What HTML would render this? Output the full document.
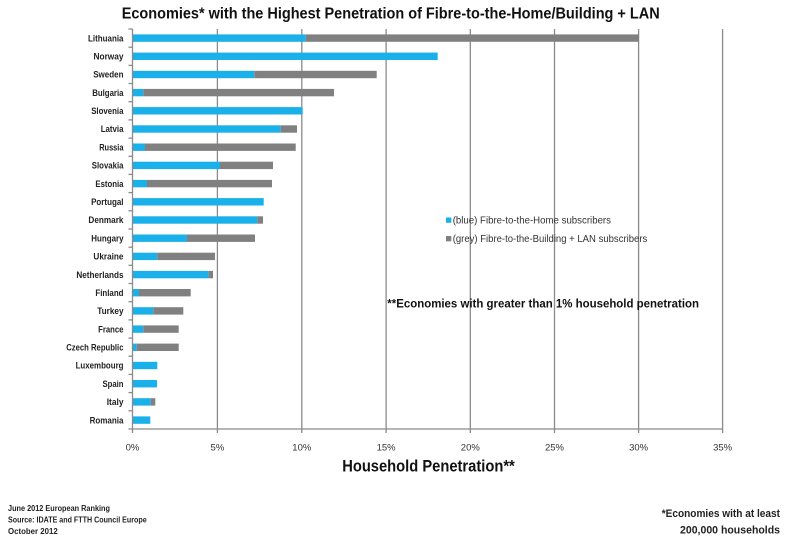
<!DOCTYPE html>
<html>
<head>
<meta charset="utf-8">
<style>
html,body{margin:0;padding:0;background:#fff;}
svg{display:block;}
text{font-family:"Liberation Sans",Arial,sans-serif;}
</style>
</head>
<body>
<svg width="800" height="536" viewBox="0 0 800 536" xmlns="http://www.w3.org/2000/svg">
<rect width="800" height="536" fill="#fff"/>
<!-- Title -->
<text x="121.7" y="18.5" font-size="15.4" font-weight="bold" fill="#111" textLength="538" lengthAdjust="spacingAndGlyphs">Economies* with the Highest Penetration of Fibre-to-the-Home/Building + LAN</text>

<!-- gridlines -->
<g stroke="#8a8a8a" stroke-width="1.3">
<line x1="217.4" y1="29" x2="217.4" y2="429"/>
<line x1="301.8" y1="29" x2="301.8" y2="429"/>
<line x1="386.1" y1="29" x2="386.1" y2="429"/>
<line x1="470.3" y1="29" x2="470.3" y2="429"/>
<line x1="554.5" y1="29" x2="554.5" y2="429"/>
<line x1="638.6" y1="29" x2="638.6" y2="429"/>
<line x1="722.6" y1="29" x2="722.6" y2="429"/>
</g>

<!-- bars: row center = 29 + 18.18*(i+0.5); bar height 7.4 -->
<g>
<!-- Lithuania -->
<rect x="132.5" y="34.4" width="173.2" height="7.4" fill="#1ab0ea"/>
<rect x="305.7" y="34.4" width="333.3" height="7.4" fill="#808080"/>
<!-- Norway -->
<rect x="132.5" y="52.6" width="305.2" height="7.4" fill="#1ab0ea"/>
<!-- Sweden -->
<rect x="132.5" y="70.8" width="121.8" height="7.4" fill="#1ab0ea"/>
<rect x="254.3" y="70.8" width="122.4" height="7.4" fill="#808080"/>
<!-- Bulgaria -->
<rect x="132.5" y="88.9" width="10.8" height="7.4" fill="#1ab0ea"/>
<rect x="143.3" y="88.9" width="190.7" height="7.4" fill="#808080"/>
<!-- Slovenia -->
<rect x="132.5" y="107.1" width="170.2" height="7.4" fill="#1ab0ea"/>
<!-- Latvia -->
<rect x="132.5" y="125.3" width="148.2" height="7.4" fill="#1ab0ea"/>
<rect x="280.7" y="125.3" width="16.3" height="7.4" fill="#808080"/>
<!-- Russia -->
<rect x="132.5" y="143.5" width="12.5" height="7.4" fill="#1ab0ea"/>
<rect x="145" y="143.5" width="150.7" height="7.4" fill="#808080"/>
<!-- Slovakia -->
<rect x="132.5" y="161.7" width="87.5" height="7.4" fill="#1ab0ea"/>
<rect x="220" y="161.7" width="53" height="7.4" fill="#808080"/>
<!-- Estonia -->
<rect x="132.5" y="179.9" width="14.5" height="7.4" fill="#1ab0ea"/>
<rect x="147" y="179.9" width="125" height="7.4" fill="#808080"/>
<!-- Portugal -->
<rect x="132.5" y="198.1" width="131.2" height="7.4" fill="#1ab0ea"/>
<!-- Denmark -->
<rect x="132.5" y="216.3" width="124.8" height="7.4" fill="#1ab0ea"/>
<rect x="257.3" y="216.3" width="5.7" height="7.4" fill="#808080"/>
<!-- Hungary -->
<rect x="132.5" y="234.5" width="54.5" height="7.4" fill="#1ab0ea"/>
<rect x="187" y="234.5" width="68" height="7.4" fill="#808080"/>
<!-- Ukraine -->
<rect x="132.5" y="252.7" width="24.8" height="7.4" fill="#1ab0ea"/>
<rect x="157.3" y="252.7" width="57.7" height="7.4" fill="#808080"/>
<!-- Netherlands -->
<rect x="132.5" y="270.9" width="76.2" height="7.4" fill="#1ab0ea"/>
<rect x="208.7" y="270.9" width="4.3" height="7.4" fill="#808080"/>
<!-- Finland -->
<rect x="132.5" y="289.0" width="6.5" height="7.4" fill="#1ab0ea"/>
<rect x="139" y="289.0" width="51.7" height="7.4" fill="#808080"/>
<!-- Turkey -->
<rect x="132.5" y="307.2" width="20.8" height="7.4" fill="#1ab0ea"/>
<rect x="153.3" y="307.2" width="30" height="7.4" fill="#808080"/>
<!-- France -->
<rect x="132.5" y="325.4" width="10.8" height="7.4" fill="#1ab0ea"/>
<rect x="143.3" y="325.4" width="35.4" height="7.4" fill="#808080"/>
<!-- Czech Republic -->
<rect x="132.5" y="343.6" width="4.2" height="7.4" fill="#1ab0ea"/>
<rect x="136.7" y="343.6" width="42" height="7.4" fill="#808080"/>
<!-- Luxembourg -->
<rect x="132.5" y="361.8" width="24.8" height="7.4" fill="#1ab0ea"/>
<!-- Spain -->
<rect x="132.5" y="380.0" width="24.5" height="7.4" fill="#1ab0ea"/>
<!-- Italy -->
<rect x="132.5" y="398.2" width="18.2" height="7.4" fill="#1ab0ea"/>
<rect x="150.7" y="398.2" width="4.6" height="7.4" fill="#808080"/>
<!-- Romania -->
<rect x="132.5" y="416.4" width="17.8" height="7.4" fill="#1ab0ea"/>
</g>

<!-- axes -->
<g stroke="#8a8a8a" stroke-width="1.3">
<line x1="132.5" y1="29" x2="132.5" y2="429.5"/>
<line x1="132" y1="429" x2="723" y2="429"/>
<!-- x ticks -->
<line x1="132.5" y1="429" x2="132.5" y2="433"/>
<line x1="217.4" y1="429" x2="217.4" y2="433"/>
<line x1="301.8" y1="429" x2="301.8" y2="433"/>
<line x1="386.1" y1="429" x2="386.1" y2="433"/>
<line x1="470.3" y1="429" x2="470.3" y2="433"/>
<line x1="554.5" y1="429" x2="554.5" y2="433"/>
<line x1="638.6" y1="429" x2="638.6" y2="433"/>
<line x1="722.6" y1="429" x2="722.6" y2="433"/>
<!-- y ticks -->
<line x1="128.5" y1="29" x2="132.5" y2="29"/>
<line x1="128.5" y1="47.2" x2="132.5" y2="47.2"/>
<line x1="128.5" y1="65.4" x2="132.5" y2="65.4"/>
<line x1="128.5" y1="83.5" x2="132.5" y2="83.5"/>
<line x1="128.5" y1="101.7" x2="132.5" y2="101.7"/>
<line x1="128.5" y1="119.9" x2="132.5" y2="119.9"/>
<line x1="128.5" y1="138.1" x2="132.5" y2="138.1"/>
<line x1="128.5" y1="156.3" x2="132.5" y2="156.3"/>
<line x1="128.5" y1="174.4" x2="132.5" y2="174.4"/>
<line x1="128.5" y1="192.6" x2="132.5" y2="192.6"/>
<line x1="128.5" y1="210.8" x2="132.5" y2="210.8"/>
<line x1="128.5" y1="229" x2="132.5" y2="229"/>
<line x1="128.5" y1="247.2" x2="132.5" y2="247.2"/>
<line x1="128.5" y1="265.3" x2="132.5" y2="265.3"/>
<line x1="128.5" y1="283.5" x2="132.5" y2="283.5"/>
<line x1="128.5" y1="301.7" x2="132.5" y2="301.7"/>
<line x1="128.5" y1="319.9" x2="132.5" y2="319.9"/>
<line x1="128.5" y1="338.1" x2="132.5" y2="338.1"/>
<line x1="128.5" y1="356.2" x2="132.5" y2="356.2"/>
<line x1="128.5" y1="374.4" x2="132.5" y2="374.4"/>
<line x1="128.5" y1="392.6" x2="132.5" y2="392.6"/>
<line x1="128.5" y1="410.8" x2="132.5" y2="410.8"/>
<line x1="128.5" y1="429" x2="132.5" y2="429"/>
</g>

<!-- y labels -->
<g font-size="9.2" font-weight="bold" fill="#222" text-anchor="end" lengthAdjust="spacingAndGlyphs">
<text x="123.5" y="41.3" textLength="35.5" lengthAdjust="spacingAndGlyphs">Lithuania</text>
<text x="123.5" y="59.5" textLength="30" lengthAdjust="spacingAndGlyphs">Norway</text>
<text x="123.5" y="77.7" textLength="30.3" lengthAdjust="spacingAndGlyphs">Sweden</text>
<text x="123.5" y="95.8" textLength="31.3" lengthAdjust="spacingAndGlyphs">Bulgaria</text>
<text x="123.5" y="114.0" textLength="32.3" lengthAdjust="spacingAndGlyphs">Slovenia</text>
<text x="123.5" y="132.2" textLength="22.8" lengthAdjust="spacingAndGlyphs">Latvia</text>
<text x="123.5" y="150.4" textLength="24.3" lengthAdjust="spacingAndGlyphs">Russia</text>
<text x="123.5" y="168.6" textLength="31.7" lengthAdjust="spacingAndGlyphs">Slovakia</text>
<text x="123.5" y="186.8" textLength="28.1" lengthAdjust="spacingAndGlyphs">Estonia</text>
<text x="123.5" y="205.0" textLength="32.4" lengthAdjust="spacingAndGlyphs">Portugal</text>
<text x="123.5" y="223.2" textLength="35.1" lengthAdjust="spacingAndGlyphs">Denmark</text>
<text x="123.5" y="241.4" textLength="32.2" lengthAdjust="spacingAndGlyphs">Hungary</text>
<text x="123.5" y="259.6" textLength="30.1" lengthAdjust="spacingAndGlyphs">Ukraine</text>
<text x="123.5" y="277.8" textLength="47.1" lengthAdjust="spacingAndGlyphs">Netherlands</text>
<text x="123.5" y="295.9" textLength="28.1" lengthAdjust="spacingAndGlyphs">Finland</text>
<text x="123.5" y="314.1" textLength="26.2" lengthAdjust="spacingAndGlyphs">Turkey</text>
<text x="123.5" y="332.3" textLength="25.4" lengthAdjust="spacingAndGlyphs">France</text>
<text x="123.5" y="350.5" textLength="57.3" lengthAdjust="spacingAndGlyphs">Czech Republic</text>
<text x="123.5" y="368.7" textLength="47.9" lengthAdjust="spacingAndGlyphs">Luxembourg</text>
<text x="123.5" y="386.9" textLength="21" lengthAdjust="spacingAndGlyphs">Spain</text>
<text x="123.5" y="405.1" textLength="16.8" lengthAdjust="spacingAndGlyphs">Italy</text>
<text x="123.5" y="423.3" textLength="33.9" lengthAdjust="spacingAndGlyphs">Romania</text>
</g>

<!-- x tick labels -->
<g font-size="9.5" fill="#333" text-anchor="middle">
<text x="132.5" y="450.5">0%</text>
<text x="217.4" y="450.5">5%</text>
<text x="301.8" y="450.5">10%</text>
<text x="386.1" y="450.5">15%</text>
<text x="470.3" y="450.5">20%</text>
<text x="554.5" y="450.5">25%</text>
<text x="638.6" y="450.5">30%</text>
<text x="722.6" y="450.5">35%</text>
</g>

<!-- x axis title -->
<text x="342.2" y="471.5" font-size="16.5" font-weight="bold" fill="#111" textLength="172.6" lengthAdjust="spacingAndGlyphs">Household Penetration**</text>

<!-- legend -->
<rect x="446" y="217.5" width="5.3" height="5.3" fill="#1ab0ea"/>
<text x="452.7" y="223.5" font-size="10" fill="#333" textLength="158.3" lengthAdjust="spacingAndGlyphs">(blue) Fibre-to-the-Home subscribers</text>
<rect x="446" y="236" width="5.3" height="5.3" fill="#808080"/>
<text x="452.7" y="242.2" font-size="10" fill="#333" textLength="194.6" lengthAdjust="spacingAndGlyphs">(grey) Fibre-to-the-Building + LAN subscribers</text>

<!-- annotation -->
<text x="387.3" y="307.5" font-size="12.3" font-weight="bold" fill="#111" textLength="311.7" lengthAdjust="spacingAndGlyphs">**Economies with greater than 1% household penetration</text>

<!-- footer left -->
<g font-size="7.8" font-weight="bold" fill="#222">
<text x="8" y="511" textLength="102" lengthAdjust="spacingAndGlyphs">June 2012 European Ranking</text>
<text x="8" y="522.5" textLength="138.7" lengthAdjust="spacingAndGlyphs">Source: IDATE and FTTH Council Europe</text>
<text x="8" y="534" textLength="49.7" lengthAdjust="spacingAndGlyphs">October 2012</text>
</g>

<!-- footer right -->
<g font-size="11" font-weight="bold" fill="#222">
<text x="661.7" y="517" textLength="118.3" lengthAdjust="spacingAndGlyphs">*Economies with at least</text>
<text x="680" y="533.5" textLength="100" lengthAdjust="spacingAndGlyphs">200,000 households</text>
</g>
</svg>
</body>
</html>
